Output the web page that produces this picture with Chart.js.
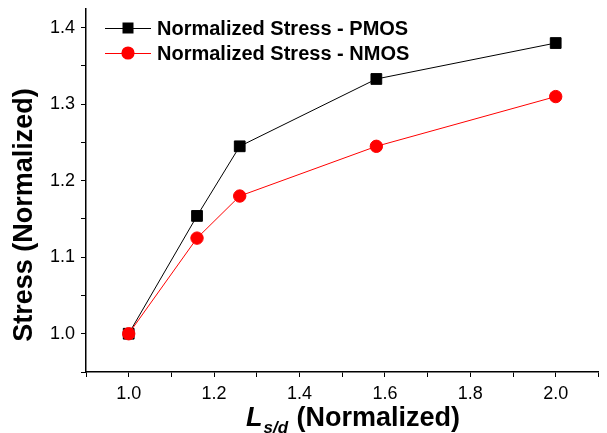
<!DOCTYPE html>
<html>
<head>
<meta charset="utf-8">
<script src="https://cdn.jsdelivr.net/npm/chart.js@4.4.0/dist/chart.umd.min.js"></script>
<style>
  html, body { margin: 0; padding: 0; background: #fff; }
  #wrap { width: 607px; height: 433px; }
</style>
</head>
<body>
<div id="wrap"><canvas id="stressChart" width="607" height="433"></canvas></div>
<script>
const lsd = [1.0, 1.16, 1.26, 1.58, 2.0];
const pmosStress = [1.0, 1.154, 1.245, 1.333, 1.38];
const nmosStress = [1.0, 1.125, 1.18, 1.245, 1.31];
const seriesNames = ['Normalized Stress - PMOS', 'Normalized Stress - NMOS'];
const xTitle = ['L', 's/d', ' (Normalized)'];
const yTitle = 'Stress (Normalized)';

const fontFamily = "'Liberation Sans', Arial, Helvetica, sans-serif";
Chart.defaults.font.family = fontFamily;
Chart.defaults.color = '#000';

const toPoints = (ys) => lsd.map((x, i) => ({ x: x, y: ys[i] }));

// legend + axis titles drawn by hand (subscript, in-plot legend)
const decorations = {
    id: 'decorations',
    afterDraw(chart) {
        const ctx = chart.ctx;
        ctx.save();

        // legend
        const rows = [
            { name: seriesNames[0], color: '#000', style: 'rect', y: 28 },
            { name: seriesNames[1], color: '#ff0000', style: 'circle', y: 53 }
        ];
        rows.forEach(r => {
            ctx.strokeStyle = r.color;
            ctx.fillStyle = r.color;
            ctx.lineWidth = 1;
            ctx.beginPath();
            ctx.moveTo(105, r.y + 0.5);
            ctx.lineTo(151, r.y + 0.5);
            ctx.stroke();
            ctx.beginPath();
            if (r.style === 'rect') {
                ctx.rect(128 - 5.5, r.y - 5.5, 11, 11);
            } else {
                ctx.arc(128, r.y, 6.6, 0, Math.PI * 2);
            }
            ctx.fill();
            ctx.fillStyle = '#000';
            ctx.font = 'bold 20px ' + fontFamily;
            ctx.textBaseline = 'middle';
            ctx.textAlign = 'left';
            ctx.fillText(r.name, 157, r.y + 1);
        });

        // x title
        ctx.textBaseline = 'alphabetic';
        ctx.fillStyle = '#000';
        const bigI = 'italic bold 27px ' + fontFamily;
        const subI = 'italic bold 17px ' + fontFamily;
        const big = 'bold 27px ' + fontFamily;
        ctx.font = bigI; const w1 = ctx.measureText(xTitle[0]).width;
        ctx.font = subI; const w2 = ctx.measureText(xTitle[1]).width;
        ctx.font = big; const w3 = ctx.measureText(xTitle[2]).width;
        let x = 353 - (w1 + w2 + 2 + w3) / 2;
        const base = 426;
        ctx.font = bigI; ctx.fillText(xTitle[0], x, base); x += w1 + 1;
        ctx.font = subI; ctx.fillText(xTitle[1], x, base + 7); x += w2 + 1;
        ctx.font = big; ctx.fillText(xTitle[2], x, base);

        // y title
        ctx.translate(32, 215);
        ctx.rotate(-Math.PI / 2);
        ctx.textAlign = 'center';
        ctx.font = big;
        ctx.fillText(yTitle, 0, 0);
        ctx.restore();
    }
};

const ctx = document.getElementById('stressChart').getContext('2d');
new Chart(ctx, {
    type: 'line',
    data: {
        datasets: [
            {
                label: seriesNames[0],
                data: toPoints(pmosStress),
                borderColor: '#000',
                backgroundColor: '#000',
                borderWidth: 1,
                pointStyle: 'rect',
                pointRadius: 7.6,
                pointBorderWidth: 1,
                tension: 0,
                order: 1
            },
            {
                label: seriesNames[1],
                data: toPoints(nmosStress),
                borderColor: '#ff0000',
                backgroundColor: '#ff0000',
                borderWidth: 1,
                pointStyle: 'circle',
                pointRadius: 6.2,
                pointBorderWidth: 1,
                tension: 0,
                order: 0
            }
        ]
    },
    options: {
        responsive: false,
        animation: false,
        layout: { padding: { top: 8, right: 0, left: 0, bottom: 0 } },
        scales: {
            x: {
                type: 'linear',
                min: 0.9,
                max: 2.1,
                grid: { drawOnChartArea: false, drawTicks: true, tickLength: 5, tickColor: '#000', tickWidth: 1 },
                border: { display: true, color: '#000', width: 1.5 },
                ticks: {
                    stepSize: 0.1,
                    padding: 6,
                    maxRotation: 0,
                    autoSkip: false,
                    font: { size: 18 },
                    color: '#000',
                    callback: v => (Math.round(v * 10) % 2 === 0 ? v.toFixed(1) : '')
                },
                afterFit: s => { s.height = 61; s.paddingLeft = 0; s.paddingRight = 0; }
            },
            y: {
                min: 0.95,
                max: 1.425,
                grid: { drawOnChartArea: false, drawTicks: true, tickLength: 5, tickColor: '#000', tickWidth: 1 },
                border: { display: true, color: '#000', width: 1.5 },
                ticks: {
                    stepSize: 0.05,
                    includeBounds: false,
                    padding: 6,
                    autoSkip: false,
                    font: { size: 18 },
                    color: '#000',
                    callback: v => (Math.round(v * 100) % 10 === 0 ? v.toFixed(1) : '')
                },
                afterFit: s => { s.width = 86; s.paddingTop = 0; s.paddingBottom = 0; }
            }
        },
        plugins: {
            legend: { display: false },
            tooltip: { enabled: false }
        }
    },
    plugins: [decorations]
});
</script>
</body>
</html>
